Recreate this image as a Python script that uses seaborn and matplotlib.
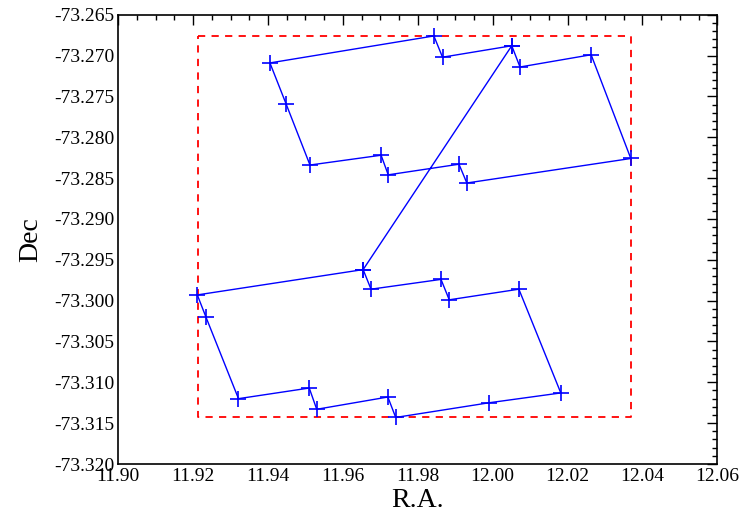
import matplotlib
matplotlib.use("Agg")
import matplotlib.pyplot as plt
import seaborn as sns
import pandas as pd
from matplotlib.ticker import MultipleLocator, FormatStrFormatter

# Scan path (R.A., Dec) in drawing order
ra = [12.0051, 12.0073, 12.0263, 12.0369, 11.9931, 11.9910, 11.9721, 11.9702,
      11.9512, 11.9448, 11.9405, 11.9843, 11.9866, 12.0051,
      11.9654, 11.9675, 11.9862, 11.9884, 12.0070, 12.0182, 11.9991, 11.9741,
      11.9720, 11.9530, 11.9510, 11.9321, 11.9234, 11.9211, 11.9654]
dec = [-73.2688, -73.2714, -73.2699, -73.2826, -73.2856, -73.2833, -73.2846, -73.2822,
       -73.2834, -73.2759, -73.2709, -73.2676, -73.2702, -73.2688,
       -73.2962, -73.2986, -73.2974, -73.2999, -73.2986, -73.3113, -73.3125, -73.3143,
       -73.3118, -73.3133, -73.3107, -73.3120, -73.3020, -73.2993, -73.2962]

# Bounding box (red dashed)
box_ra = [11.9214, 12.0369, 12.0369, 11.9214, 11.9214]
box_dec = [-73.2676, -73.2676, -73.3143, -73.3143, -73.2676]

x_ticks = [11.90, 11.92, 11.94, 11.96, 11.98, 12.00, 12.02, 12.04, 12.06]
y_ticks = [-73.320, -73.315, -73.310, -73.305, -73.300, -73.295, -73.290,
           -73.285, -73.280, -73.275, -73.270, -73.265]

sns.set_style("white")
plt.rcParams['font.family'] = ['Liberation Serif', 'DejaVu Serif']
plt.rcParams['text.color'] = 'black'
plt.rcParams['axes.labelcolor'] = 'black'
plt.rcParams['xtick.color'] = 'black'
plt.rcParams['ytick.color'] = 'black'

fig = plt.figure(figsize=(7.46, 5.22), dpi=100)
ax = fig.add_axes([0.1586, 0.1111, 0.9615 - 0.1586, 0.9718 - 0.1111])

df = pd.DataFrame({"ra": ra, "dec": dec, "order": range(len(ra))})
box = pd.DataFrame({"ra": box_ra, "dec": box_dec})

sns.lineplot(data=box, x="ra", y="dec", sort=False, estimator=None, ax=ax,
             color="#ff0000", linewidth=1.3, linestyle=(0, (4, 3.5)))
sns.lineplot(data=df, x="ra", y="dec", sort=False, estimator=None, ax=ax,
             color="#0000ff", linewidth=1.0, marker="+", markersize=12,
             markeredgewidth=1.2, markeredgecolor="#0000ff")

ax.set_xlim(x_ticks[0], x_ticks[-1])
ax.set_ylim(y_ticks[0], y_ticks[-1])
ax.set_xticks(x_ticks)
ax.set_yticks(y_ticks)
ax.xaxis.set_major_formatter(FormatStrFormatter('%.2f'))
ax.yaxis.set_major_formatter(FormatStrFormatter('%.3f'))
ax.xaxis.set_minor_locator(MultipleLocator(0.005))
ax.yaxis.set_minor_locator(MultipleLocator(0.001))
ax.tick_params(which="both", direction="in", top=True, right=True,
               color="black", labelcolor="black", width=1.0)
ax.tick_params(which="major", length=7, labelsize=14, pad=3)
ax.tick_params(which="minor", length=3.5)
for s in ax.spines.values():
    s.set_color("black")
    s.set_linewidth(1.2)

ax.set_xlabel("R.A.", fontsize=20, labelpad=2, color="black")
ax.set_ylabel("Dec", fontsize=20, labelpad=8, color="black")

fig.savefig("out.png", dpi=100)
